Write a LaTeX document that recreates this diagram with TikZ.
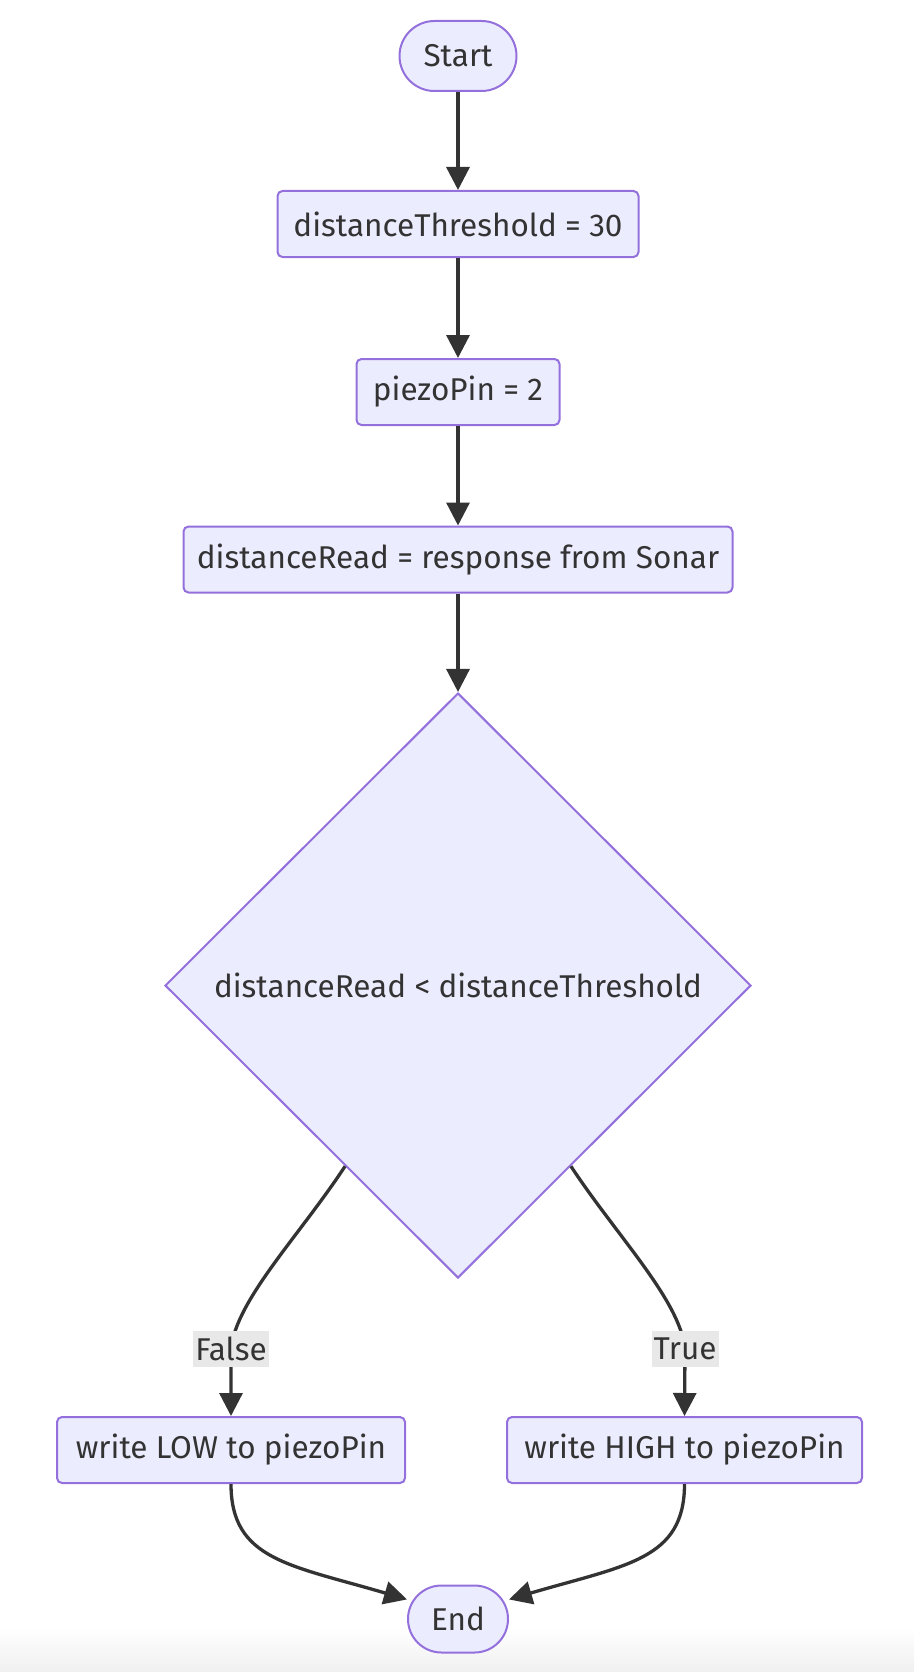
\documentclass[tikz,border=0pt]{standalone}
\usepackage{fontspec}
\setmainfont{Fira Sans}
\usetikzlibrary{shapes.geometric,arrows.meta}
\definecolor{nodefill}{HTML}{ECECFF}
\definecolor{nodeborder}{HTML}{9370DB}
\definecolor{ink}{HTML}{333333}
\definecolor{lblfill}{HTML}{E8E8E8}
\tikzset{
  base/.style={draw=nodeborder, fill=nodefill, line width=2pt, text=ink, font=\fontsize{31.5}{37}\selectfont, inner sep=0pt},
  procbox/.style={base, rectangle, rounded corners=5pt, minimum height=66pt},
  stadium/.style={base, rectangle, rounded corners=#1},
  decision/.style={base, diamond, shape aspect=1, minimum width=586pt, minimum height=585pt},
  flow/.style={draw=ink, line width=3.3pt, -{Triangle[length=23pt,width=23pt]}},
  edgelabel/.style={fill=lblfill, text=ink, font=\fontsize{31.5}{37}\selectfont, inner sep=2pt, minimum height=36pt}
}
\begin{document}
\begin{tikzpicture}[x=1pt,y=-1pt]
\useasboundingbox (0,0) rectangle (914,1672);
\shade[top color=white, bottom color=black!6] (0,1628) rectangle (914,1672);
\node[stadium=35pt, minimum width=117pt, minimum height=70pt] (start) at (458,56) {Start};
\node[procbox, minimum width=361pt] (thr) at (458,224) {distanceThreshold = 30};
\node[procbox, minimum width=203pt] (pin) at (458,392) {piezoPin = 2};
\node[procbox, minimum width=549pt] (read) at (458,559.5) {distanceRead = response from Sonar};
\node[decision] (cmp) at (458,985.5) {distanceRead < distanceThreshold};
\node[procbox, minimum width=348pt] (low) at (231,1450) {write LOW to piezoPin};
\node[procbox, minimum width=355pt] (high) at (684.5,1450) {write HIGH to piezoPin};
\node[stadium=33.5pt, minimum width=100pt, minimum height=67pt] (end) at (458,1619) {End};
\coordinate (fpt) at (231,1349);
\coordinate (tpt) at (685,1349);
\draw[flow] (start) -- (thr);
\draw[flow] (thr) -- (pin);
\draw[flow] (pin) -- (read);
\draw[flow] (read) -- (cmp);
\draw[flow] (cmp.238) .. controls (300,1235) and (236,1300) .. (fpt) -- (low.north);
\draw[flow] (cmp.302) .. controls (616,1235) and (680,1300) .. (tpt) -- (high.north);
\draw[flow] (low.south) .. controls (231,1560) and (290,1565) .. (end.159);
\draw[flow] (high.south) .. controls (684.5,1560) and (626,1565) .. (end.21);
\node[edgelabel] (flbl) at (fpt) {False};
\node[edgelabel] (tlbl) at (tpt) {True};
\end{tikzpicture}
\end{document}
